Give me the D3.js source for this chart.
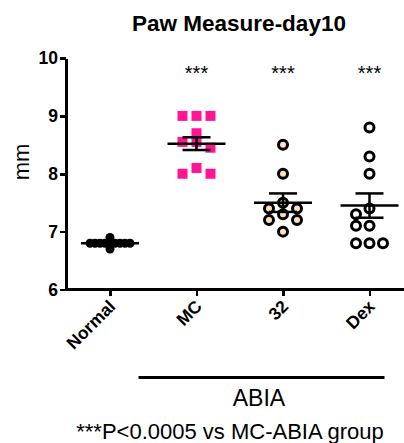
<!DOCTYPE html>
<html>
<head>
<meta charset="utf-8">
<title>paw-measure</title>
<script src="https://cdn.jsdelivr.net/npm/d3@7"></script>
<style>
  body { margin: 0; background: #fff; }
  svg { font-family: "Liberation Sans", Arial, sans-serif; }
  .axis path, .axis line { stroke: #000; stroke-width: 2.5px; shape-rendering: crispEdges; }
  .axis text { font-weight: bold; font-size: 17.5px; fill: #000; }
  .bar { stroke: #000; stroke-width: 2.5px; fill: none; }
</style>
</head>
<body>
<svg width="404" height="443"></svg>
<script>
// groups along the x axis
var groups = ["Normal", "MC", "32", "Dex"];

var normalVals = [6.9, 6.8, 6.8, 6.8, 6.8, 6.8, 6.8, 6.8, 6.8, 6.8, 6.7];
var mcVals = [9.0, 9.0, 9.0, 8.7, 8.55, 8.55, 8.45, 8.1, 8.0, 8.0];
var c32Vals = [8.5, 8.0, 7.5, 7.4, 7.4, 7.3, 7.2, 7.2, 7.0];
var dexVals = [8.8, 8.3, 8.0, 7.4, 7.3, 7.1, 7.1, 6.8, 6.8, 6.8];

// mean and SEM drawn as bars
var means = [6.8, 8.52, 7.5, 7.45];
var sems = [0.02, 0.11, 0.16, 0.21];

// significance marks above groups
var stars = ["", "***", "***", "***"];
var yTicks = [6, 7, 8, 9, 10];

var svg = d3.select("svg");

var y = d3.scaleLinear().domain([6, 10]).range([289.5, 58]);
var x = d3.scalePoint().domain(groups).range([110, 369.5]);

// title
svg.append("text")
  .attr("x", 239).attr("y", 31)
  .attr("text-anchor", "middle")
  .style("font-weight", "bold").style("font-size", "22.5px")
  .text("Paw Measure-day10");

// y axis
svg.append("g")
  .attr("class", "axis")
  .attr("transform", "translate(66,0)")
  .call(d3.axisLeft(y).tickValues(yTicks).tickFormat(d3.format("d"))
    .tickSize(6).tickSizeOuter(0).tickPadding(2));

svg.append("text")
  .attr("transform", "translate(29,162) rotate(-90)")
  .attr("text-anchor", "middle")
  .style("font-size", "22px")
  .text("mm");

// x axis
var xAxis = svg.append("g")
  .attr("class", "axis")
  .attr("transform", "translate(0,289.5)")
  .call(d3.axisBottom(x).tickSize(6).tickSizeOuter(0));
xAxis.select(".domain").attr("d", "M64.75,0H404");
xAxis.selectAll(".tick text")
  .attr("text-anchor", "end")
  .attr("dy", null)
  .attr("y", 0)
  .attr("transform", "translate(6,18) rotate(-45)");

// simple beeswarm placement: slot offsets without overlap
function swarm(vals, step, minDist) {
  var placed = [];
  vals.slice().sort(function(a, b) { return b - a; }).forEach(function(v) {
    var py = y(v);
    for (var k = 0; k < 40; k++) {
      var off = (k === 0) ? 0 : (k % 2 ? -1 : 1) * Math.ceil(k / 2) * step;
      var ok = placed.every(function(p) {
        return Math.hypot(p.off - off, p.py - py) >= minDist;
      });
      if (ok) { placed.push({ v: v, off: off, py: py }); break; }
    }
  });
  return placed;
}

var g = svg.append("g");

// Normal: filled black dots
g.selectAll(".n").data(swarm(normalVals, 5, 4)).enter()
  .append("circle")
  .attr("cx", function(d) { return x("Normal") + d.off; })
  .attr("cy", function(d) { return y(d.v); })
  .attr("r", 4.5)
  .attr("fill", "#000");

// MC: pink squares
g.selectAll(".m").data(swarm(mcVals, 14, 7)).enter()
  .append("rect")
  .attr("x", function(d) { return x("MC") + d.off - 5; })
  .attr("y", function(d) { return y(d.v) - 5; })
  .attr("width", 10).attr("height", 10)
  .attr("fill", "#ff1493");

// 32: peach open circles
g.selectAll(".c").data(swarm(c32Vals, 7, 10)).enter()
  .append("circle")
  .attr("cx", function(d) { return x("32") + d.off; })
  .attr("cy", function(d) { return y(d.v); })
  .attr("r", 4.5)
  .attr("fill", "#fde0c0")
  .attr("stroke", "#000").attr("stroke-width", 3);

// Dex: white open circles
g.selectAll(".d").data(swarm(dexVals, 13.5, 10)).enter()
  .append("circle")
  .attr("cx", function(d) { return x("Dex") + d.off; })
  .attr("cy", function(d) { return y(d.v); })
  .attr("r", 4.5)
  .attr("fill", "#fff")
  .attr("stroke", "#000").attr("stroke-width", 3);

// mean +/- SEM
groups.forEach(function(grp, i) {
  var cx = x(grp), m = means[i], s = sems[i];
  var bars = svg.append("g").attr("class", "bar");
  bars.append("line").attr("x1", cx - 29).attr("x2", cx + 29).attr("y1", y(m)).attr("y2", y(m));
  bars.append("line").attr("x1", cx).attr("x2", cx).attr("y1", y(m - s)).attr("y2", y(m + s));
  bars.append("line").attr("x1", cx - 14).attr("x2", cx + 14).attr("y1", y(m + s)).attr("y2", y(m + s));
  bars.append("line").attr("x1", cx - 14).attr("x2", cx + 14).attr("y1", y(m - s)).attr("y2", y(m - s));
  svg.append("text")
    .attr("x", cx).attr("y", 80)
    .attr("text-anchor", "middle")
    .style("font-size", "20px")
    .text(stars[i]);
});

// ABIA bracket
svg.append("line")
  .attr("x1", x("MC") - 58).attr("x2", x("Dex") + 15)
  .attr("y1", 377.5).attr("y2", 377.5)
  .attr("stroke", "#000").attr("stroke-width", 3);

svg.append("text")
  .attr("x", 259).attr("y", 406)
  .attr("text-anchor", "middle")
  .style("font-size", "23px")
  .text("ABIA");

svg.append("text")
  .attr("x", 230).attr("y", 439)
  .attr("text-anchor", "middle")
  .style("font-size", "22px")
  .text("***P<0.0005 vs MC-ABIA group");
</script>
</body>
</html>
